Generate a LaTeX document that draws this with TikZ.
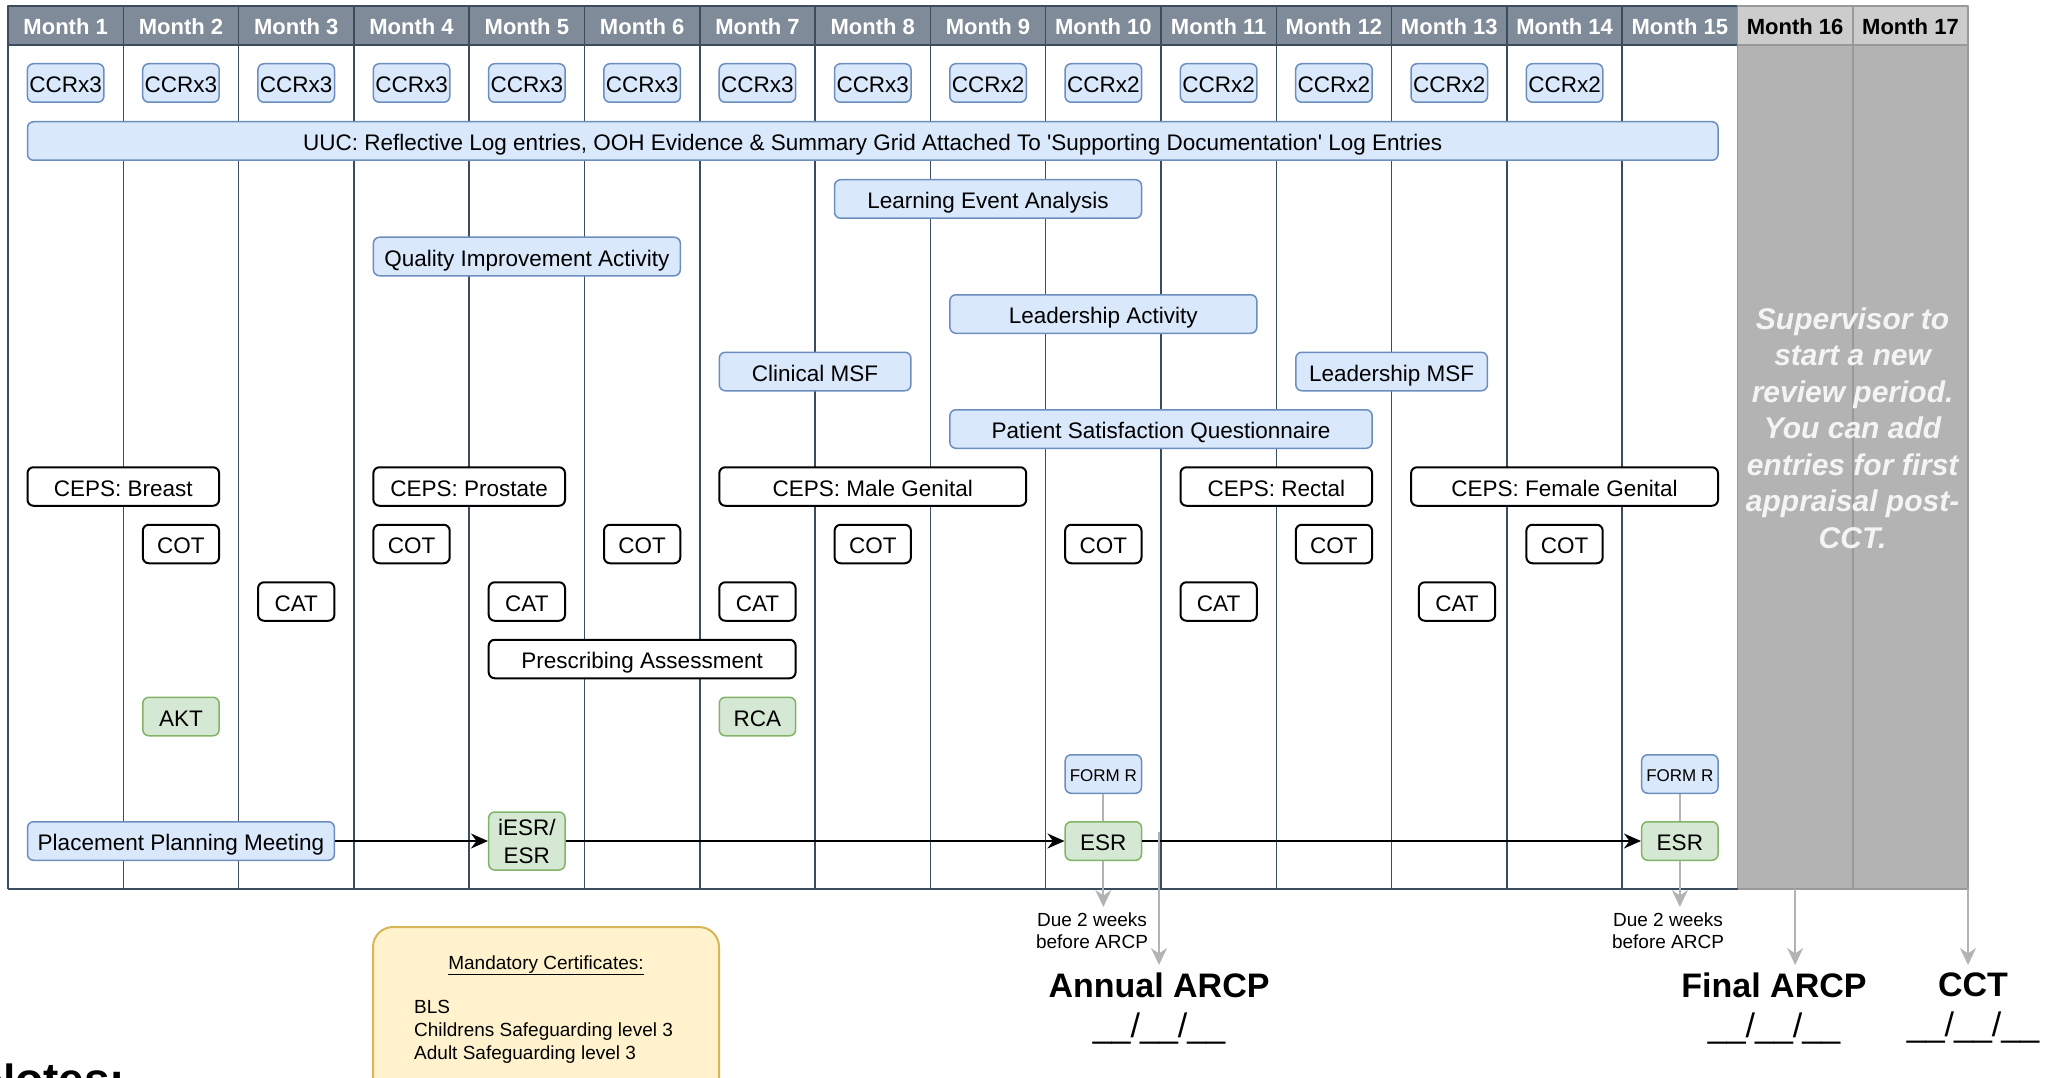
\documentclass[tikz,border=0pt]{standalone}
\usepackage{fontspec}
\setmainfont{Liberation Sans}
\usetikzlibrary{arrows.meta}
\definecolor{hdrfill}{HTML}{7F8B98}
\definecolor{slate}{HTML}{3A4C5E}
\definecolor{bluefill}{HTML}{DAE8FC}
\definecolor{blueline}{HTML}{6C8EBF}
\definecolor{greenfill}{HTML}{D5E8D4}
\definecolor{greenline}{HTML}{82B366}
\definecolor{offfill}{HTML}{B3B3B3}
\definecolor{offhdr}{HTML}{CCCCCC}
\definecolor{offline}{HTML}{999999}
\definecolor{notefill}{HTML}{FFF2CC}
\definecolor{noteline}{HTML}{D6B656}
\definecolor{leadgrey}{HTML}{B3B3B3}
\definecolor{paletext}{HTML}{F4F4F4}
\newcommand\boxfont{\fontsize{22.5}{28}\selectfont}
\newcommand\hdrfont{\fontsize{22}{26}\selectfont\bfseries}
\newcommand\formfont{\fontsize{17}{20}\selectfont}
\newcommand\duefont{\fontsize{19}{22}\selectfont}
\newcommand\certfont{\fontsize{19}{23}\selectfont}
\newcommand\bigfont{\fontsize{34}{40}\selectfont}
\newcommand\notefont{\fontsize{46}{50}\selectfont\bfseries}
\newcommand\periodfont{\fontsize{30}{36.5}\selectfont\bfseries\itshape}
\begin{document}
\begin{tikzpicture}[x=1pt, y=-1pt, line join=round,
  item/.style={rounded corners=6pt, line width=1.5pt, minimum height=38.5pt, inner sep=2pt, text height=23.5pt, text depth=4.5pt, font=\boxfont},
  blu/.style={item, draw=blueline, fill=bluefill},
  grn/.style={item, draw=greenline, fill=greenfill},
  wht/.style={item, draw=black, fill=white, line width=2pt},
  form/.style={blu, text height=17.8pt, text depth=3.4pt, font=\formfont},
  hdr/.style={draw=slate, fill=hdrfill, line width=1.5pt, minimum width=115.3pt, minimum height=39pt, text height=23pt, text depth=4pt, text=white, font=\hdrfont},
  offhd/.style={hdr, draw=offline, fill=offhdr, text=black},
  flow/.style={-{Stealth[length=17pt,width=15pt]}, line width=2pt},
  greyflow/.style={-{Stealth[length=17pt,width=16pt]}, draw=leadgrey, line width=2pt},
  date/.style={align=center, inner sep=0pt, outer ysep=8pt, anchor=north, font=\bigfont}]
\useasboundingbox (0,0) rectangle (2051,1078);
\clip (0,0) rectangle (2051,1078);
\fill[offfill] (1737.5,45) rectangle (1968,889);
\foreach \i in {0,...,14}
  \draw[slate, line width=1.5pt] ({8+115.3*\i},45) -- ({8+115.3*\i},889);
\foreach \i in {15,16,17}
  \draw[offline, line width=1.5pt] ({8+115.3*\i},45) -- ({8+115.3*\i},889);
\draw[slate, line width=2pt] (8,889) -- (1737.5,889);
\draw[offline, line width=2pt] (1737.5,889) -- (1968,889);
\foreach \i in {1,...,15}
  \node[hdr] (m\i) at ({8+115.3*(\i-0.5)},25.5) {Month \i};
\foreach \i in {16,17}
  \node[offhd] (m\i) at ({8+115.3*(\i-0.5)},25.5) {Month \i};
\foreach \i in {1,...,8}
  \node[blu, minimum width=76.3pt] (ccr\i) at ({8+115.3*(\i-0.5)},83) {CCRx3};
\foreach \i in {9,...,14}
  \node[blu, minimum width=76.3pt] (ccr\i) at ({8+115.3*(\i-0.5)},83) {CCRx2};
\node[blu, minimum width=1690.5pt] (uuc) at (872.75,141) {UUC: Reflective Log entries, OOH Evidence \& Summary Grid Attached To \textquotesingle Supporting Documentation\textquotesingle{} Log Entries};
\node[blu, minimum width=306.9pt] (lea) at (988.05,199) {Learning Event Analysis};
\node[blu, minimum width=306.9pt] (qia) at (526.85,256.5) {Quality Improvement Activity};
\node[blu, minimum width=306.9pt] (leadact) at (1103.35,314) {Leadership Activity};
\node[blu, minimum width=191.6pt] (cmsf) at (815.1,371.5) {Clinical MSF};
\node[blu, minimum width=191.6pt] (lmsf) at (1391.6,371.5) {Leadership MSF};
\node[blu, minimum width=422.2pt] (psq) at (1161,429) {Patient Satisfaction Questionnaire};
\node[wht, minimum width=191.6pt] (ceps1) at (123.3,486.5) {CEPS: Breast};
\node[wht, minimum width=191.6pt] (ceps2) at (469.2,486.5) {CEPS: Prostate};
\node[wht, minimum width=306.9pt] (ceps3) at (872.75,486.5) {CEPS: Male Genital};
\node[wht, minimum width=191.6pt] (ceps4) at (1276.3,486.5) {CEPS: Rectal};
\node[wht, minimum width=306.9pt] (ceps5) at (1564.55,486.5) {CEPS: Female Genital};
\foreach \i in {2,4,...,14}
  \node[wht, minimum width=76.3pt] (cot\i) at ({8+115.3*(\i-0.5)},544) {COT};
\foreach \x [count=\k] in {296.25,526.85,757.45,1218.65,1457}
  \node[wht, minimum width=76.3pt] (cat\k) at (\x,601.5) {CAT};
\node[wht, minimum width=306.9pt] (presc) at (642.15,659) {Prescribing Assessment};
\node[grn, minimum width=76.3pt] (akt) at (180.95,716.5) {AKT};
\node[grn, minimum width=76.3pt] (rca) at (757.45,716.5) {RCA};
\node[form, minimum width=76.3pt] (formr1) at (1103.35,774) {FORM R};
\node[form, minimum width=76.3pt] (formr2) at (1679.85,774) {FORM R};
\node[blu, minimum width=306.9pt] (ppm) at (180.95,841) {Placement Planning Meeting};
\node[grn, minimum width=76.3pt, minimum height=58pt, text height=, text depth=, align=center] (iesr) at (526.85,841) {iESR/\\ESR};
\node[grn, minimum width=76.3pt] (esr1) at (1103.35,841) {ESR};
\node[grn, minimum width=76.3pt] (esr2) at (1679.85,841) {ESR};
\draw[flow] (ppm) -- (iesr);
\draw[flow] (iesr) -- (esr1);
\draw[flow] (esr1) -- (esr2);
\draw[leadgrey, line width=2pt] (formr1) -- (esr1);
\draw[leadgrey, line width=2pt] (formr2) -- (esr2);
\node[align=center, inner sep=0pt, outer ysep=6pt, anchor=north, font=\duefont] (due1) at (1092,907) {Due 2 weeks\\before ARCP};
\node[align=center, inner sep=0pt, outer ysep=6pt, anchor=north, font=\duefont] (due2) at (1668,907) {Due 2 weeks\\before ARCP};
\draw[greyflow] (esr1) -- (esr1 |- due1.north);
\draw[greyflow] (esr2) -- (esr2 |- due2.north);
\coordinate (annfrom) at (1159,832);
\coordinate (finfrom) at (1795.15,889);
\coordinate (cctfrom) at (1968,889);
\node[date] (annual) at (1159,965) {\textbf{Annual ARCP}\\\_\_/\_\_/\_\_};
\node[date] (final) at (1774,965) {\textbf{Final ARCP}\\\_\_/\_\_/\_\_};
\node[date] (cct) at (1973,965) {\textbf{CCT}\\\_\_/\_\_/\_\_};
\draw[greyflow] (annfrom) -- (annfrom |- annual.north);
\draw[greyflow] (finfrom) -- (finfrom |- final.north);
\draw[greyflow] (cctfrom) -- (cctfrom |- cct.north);
\node[align=center, text=paletext, font=\periodfont] (newperiod) at (1852.6,428) {Supervisor to\\start a new\\review period.\\You can add\\entries for first\\appraisal post-\\CCT.};
\draw[noteline, fill=notefill, line width=2pt, rounded corners=20pt] (373,927) rectangle (719,1110);
\node[anchor=base, font=\certfont] (certhead) at (546,969) {\underline{Mandatory Certificates:}};
\node[anchor=north west, align=left, inner sep=0pt, font=\certfont] (certlist) at (414,1000) {BLS\\Childrens Safeguarding level 3\\Adult Safeguarding level 3};
\node[anchor=base west, inner sep=0pt, font=\notefont] (notes) at (-18,1095) {Notes:};
\end{tikzpicture}
\end{document}
